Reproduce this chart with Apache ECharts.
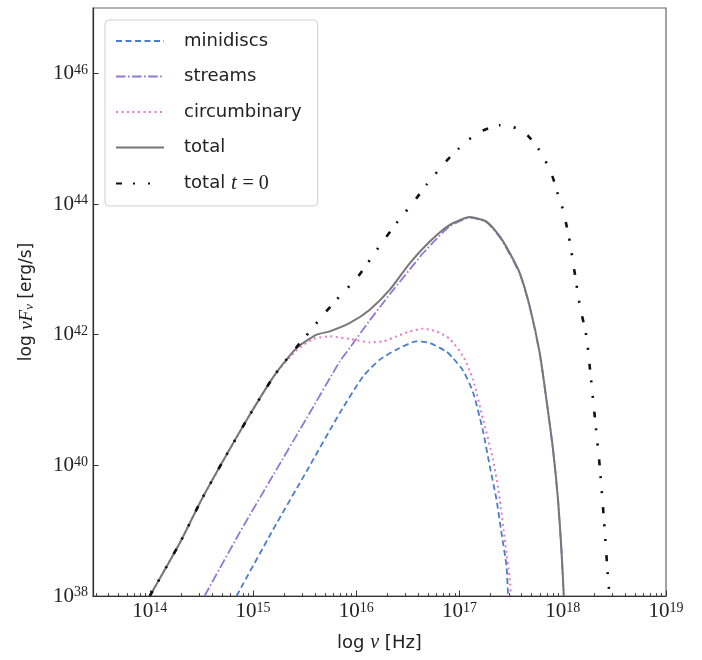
<!DOCTYPE html>
<html><head><meta charset="utf-8">
<script src="https://cdn.jsdelivr.net/npm/echarts@6/dist/echarts.min.js"></script>
<style>html,body{margin:0;padding:0;background:#fff}#c{width:702px;height:660px}</style>
</head><body><div id="c"></div>
<script>
// axis ticks (log10 values)
const xTicks = [14, 15, 16, 17, 18, 19];
const yTicks = [38, 40, 42, 44, 46];

// minidiscs
const miniX = [14.84, 15.195, 15.519, 15.841, 16.067, 16.228, 16.39, 16.584, 16.712, 16.874, 16.938, 17.035, 17.131, 17.228, 17.293, 17.358, 17.406, 17.455, 17.47];
const miniY = [38.0, 39.018, 39.91, 40.803, 41.363, 41.618, 41.771, 41.898, 41.873, 41.74, 41.64, 41.45, 41.12, 40.52, 39.986, 39.477, 38.968, 38.457, 38.0];

// streams
const strX = [14.53, 14.873, 15.195, 15.519, 15.841, 15.938, 16.131, 16.325, 16.519, 16.648, 16.78, 16.906, 17.10, 17.261, 17.39, 17.455, 17.584, 17.68, 17.777, 17.842, 17.906, 17.954, 17.987, 18.01];
const strY = [38.0, 38.977, 39.85, 40.72, 41.592, 41.80, 42.22, 42.62, 43.0, 43.25, 43.47, 43.66, 43.79, 43.72, 43.49, 43.32, 42.93, 42.42, 41.71, 41.0, 40.23, 39.47, 38.7, 38.0];

// circumbinary
const circX = [14.0, 14.292, 14.502, 14.727, 14.970, 15.212, 15.422, 15.583, 15.744, 15.938, 16.131, 16.26, 16.39, 16.519, 16.648, 16.777, 16.906, 17.035, 17.131, 17.228, 17.325, 17.39, 17.438, 17.487, 17.497];
const circY = [38.0, 38.815, 39.477, 40.115, 40.777, 41.388, 41.76, 41.934, 41.974, 41.934, 41.882, 41.898, 41.974, 42.05, 42.092, 42.05, 41.934, 41.668, 41.312, 40.70, 40.089, 39.477, 38.865, 38.254, 38.0];

// total
const totX = [14.0, 14.292, 14.502, 14.727, 14.970, 15.212, 15.422, 15.616, 15.744, 15.938, 16.131, 16.325, 16.519, 16.712, 16.906, 17.10, 17.261, 17.39, 17.487, 17.584, 17.68, 17.777, 17.842, 17.906, 17.954, 17.987, 18.01];
const totY = [38.0, 38.815, 39.477, 40.115, 40.777, 41.388, 41.797, 42.0, 42.051, 42.179, 42.382, 42.688, 43.096, 43.427, 43.682, 43.80, 43.73, 43.503, 43.25, 42.943, 42.433, 41.72, 41.006, 40.24, 39.477, 38.713, 38.0];

// total t=0
const tot0X = [14.0, 14.292, 14.502, 14.727, 14.970, 15.212, 15.422, 15.55, 15.696, 15.809, 16.018, 16.212, 16.39, 16.584, 16.68, 16.874, 16.986, 17.116, 17.228, 17.39, 17.552, 17.664, 17.771, 17.848, 17.906, 17.954, 18.003, 18.035, 18.068, 18.116, 18.164, 18.229, 18.261, 18.31, 18.358, 18.406, 18.439, 18.455];
const tot0Y = [38.0, 38.815, 39.477, 40.115, 40.777, 41.388, 41.81, 42.05, 42.332, 42.535, 42.892, 43.326, 43.708, 44.09, 44.294, 44.661, 44.84, 45.017, 45.124, 45.206, 45.16, 45.043, 44.829, 44.61, 44.396, 44.141, 43.911, 43.682, 43.427, 42.943, 42.459, 41.974, 41.515, 40.75, 39.986, 39.018, 38.254, 38.0];

const X_MIN = 13.45, X_MAX = 19, Y_MIN = 38, Y_MAX = 47;

function pairs(xs, ys) { return xs.map((x, i) => [x, ys[i]]); }

const minorX = [];
for (let n = 13; n < 19; n++) {
  for (let k = 2; k <= 9; k++) {
    const v = n + Math.log10(k);
    if (v >= X_MIN && v <= X_MAX) minorX.push(v);
  }
}

const serif = 'Liberation Serif';
const sans = 'DejaVu Sans';
const powRich = {
  b: { fontFamily: serif, fontSize: 21, color: '#222' },
  s: { fontFamily: serif, fontSize: 14, color: '#222', verticalAlign: 'top', lineHeight: 14 }
};
const powFmt = v => '{b|10}{s|' + Math.round(v) + '}';

const chart = echarts.init(document.getElementById('c'), null, { renderer: 'canvas' });
chart.setOption({
  animation: false,
  backgroundColor: '#fff',
  grid: { left: 93, right: 36, top: 8, bottom: 64, show: true, borderColor: '#666', borderWidth: 1.2, containLabel: false },
  legend: {
    left: 105, top: 20, orient: 'vertical',
    padding: [11, 16, 12, 10],
    itemWidth: 48, itemHeight: 14, itemGap: 15.5,
    borderColor: '#d0d0d0', borderWidth: 1, borderRadius: 4,
    backgroundColor: 'rgba(255,255,255,0.85)',
    itemStyle: { opacity: 0 },
    data: ['minidiscs', 'streams', 'circumbinary', 'total', 'total t=0'],
    formatter: name => name === 'total t=0' ? 'total {i|t} {m|= 0}' : name,
    textStyle: {
      fontFamily: sans, fontSize: 18, color: '#222', lineHeight: 20, padding: [0, 0, 0, 15],
      rich: {
        i: { fontFamily: serif, fontStyle: 'italic', fontSize: 21, color: '#222' },
        m: { fontFamily: serif, fontSize: 20, color: '#222' }
      }
    }
  },
  xAxis: [{
    type: 'value', min: X_MIN, max: X_MAX, position: 'bottom',
    name: 'log {i|ν} [Hz]', nameLocation: 'middle', nameGap: 37,
    nameTextStyle: { fontFamily: sans, fontSize: 18, color: '#222',
      rich: { i: { fontFamily: serif, fontStyle: 'italic', fontSize: 20, color: '#222' } } },
    axisLine: { show: true, lineStyle: { color: '#333', width: 1.2 } },
    axisTick: { show: true, inside: true, length: 5.5, customValues: xTicks, lineStyle: { color: '#333', width: 1 } },
    axisLabel: { customValues: xTicks, formatter: powFmt, rich: powRich, margin: 5 },
    splitLine: { show: false }
  }, {
    type: 'value', min: X_MIN, max: X_MAX, position: 'bottom',
    axisLine: { show: false },
    axisTick: { show: true, inside: true, length: 3, customValues: minorX, lineStyle: { color: '#333', width: 0.9 } },
    axisLabel: { show: false },
    splitLine: { show: false }
  }],
  yAxis: {
    type: 'value', min: Y_MIN, max: Y_MAX,
    name: 'log {i|νF}{sub|ν} [erg/s]', nameLocation: 'middle', nameGap: 57,
    nameTextStyle: { fontFamily: sans, fontSize: 17, color: '#222',
      rich: {
        i: { fontFamily: serif, fontStyle: 'italic', fontSize: 19, color: '#222' },
        sub: { fontFamily: serif, fontStyle: 'italic', fontSize: 13, color: '#222', verticalAlign: 'bottom', lineHeight: 14 }
      } },
    axisLine: { show: true, lineStyle: { color: '#333', width: 1.2 } },
    axisTick: { show: true, inside: true, length: 5.5, customValues: yTicks, lineStyle: { color: '#333', width: 1 } },
    axisLabel: { customValues: yTicks, formatter: powFmt, rich: powRich, margin: 5 },
    splitLine: { show: false }
  },
  series: [
    { name: 'minidiscs', type: 'line', symbol: 'none', smooth: 0.2, data: pairs(miniX, miniY),
      lineStyle: { color: '#4a7ec9', width: 1.8, type: [6, 3.5] }, itemStyle: { color: '#4a7ec9' } },
    { name: 'streams', type: 'line', symbol: 'none', smooth: 0.2, data: pairs(strX, strY),
      lineStyle: { color: '#9177d6', width: 1.8, type: [9.5, 2.5, 1.6, 2.5] }, itemStyle: { color: '#9177d6' } },
    { name: 'circumbinary', type: 'line', symbol: 'none', smooth: 0.2, data: pairs(circX, circY),
      lineStyle: { color: '#e879c9', width: 2, type: [2, 3.5] }, itemStyle: { color: '#e879c9' } },
    { name: 'total', type: 'line', symbol: 'none', smooth: 0.2, data: pairs(totX, totY),
      lineStyle: { color: '#777777', width: 2 }, itemStyle: { color: '#777777' } },
    { name: 'total t=0', type: 'line', symbol: 'none', smooth: 0.2, data: pairs(tot0X, tot0Y),
      lineStyle: { color: '#111111', width: 2.6, type: [6, 11, 2, 13, 2, 14] }, itemStyle: { color: '#111111' } }
  ]
});
</script></body></html>
